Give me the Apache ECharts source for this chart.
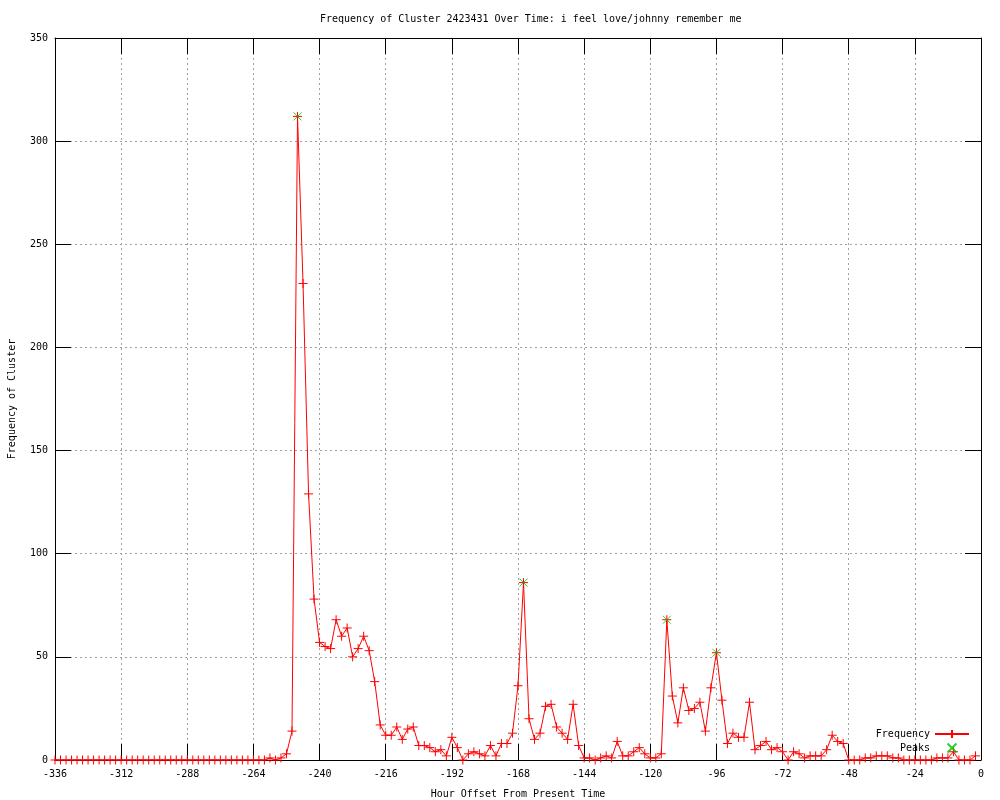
<!DOCTYPE html>
<html>
<head>
<meta charset="utf-8">
<script src="https://cdn.jsdelivr.net/npm/echarts@6/dist/echarts.min.js"></script>
<style>html,body{margin:0;padding:0;background:#fff}#c{width:1000px;height:800px}</style>
</head>
<body>
<div id="c"></div>
<script>
const TITLE = 'Frequency of Cluster 2423431 Over Time: i feel love/johnny remember me';
const X_NAME = 'Hour Offset From Present Time';
const Y_NAME = 'Frequency of Cluster';
// hours sampled every 2 hours, from -336 up to -2
const START_HOUR = -336;
const STEP_HOURS = 2;
const frequency = [
  0,0,0,0,0,0,0,0,0,0, 0,0,0,0,0,0,0,0,0,0, 0,0,0,0,0,0,0,0,0,0, 0,0,0,0,0,0,0,0,0,
  1,0,1,3,14,312,231,129,78,57,
  55,54,68,60,64,50,54,60,53,38,
  17,12,12,16,10,15,16,7,7,6,
  4,5,2,11,6,0,3,4,3,2,
  7,2,8,8,13,36,86,20,10,13,
  26,27,16,13,10,27,7,1,1,0,
  1,2,1,9,2,2,4,6,3,1,
  1,3,68,31,18,35,24,25,28,14,
  35,52,29,8,13,11,11,28,5,7,
  9,5,6,4,0,4,3,1,2,2,
  2,5,12,9,8,0,0,0,1,1,
  2,2,2,1,1,0,0,0,0,0,
  0,1,1,1,4,0,0,0,2
];
const peakHours = [-248, -166, -114, -96];
const peakValues = [312, 86, 68, 52];
const X_TICKS = { min: -336, max: 0, interval: 24 };
const Y_TICKS = { min: 0, max: 350, interval: 50 };

const freqData = frequency.map((v, i) => [START_HOUR + i * STEP_HOURS, v]);
const peakData = peakHours.map((h, i) => [h, peakValues[i]]);

const FONT = 'DejaVu Sans Mono';
const PLUS = 'path://M0,5L10,5M5,0L5,10';
const CROSS = 'path://M0,0L10,10M10,0L0,10';
const CROSS_LEGEND = 'path://M0,0L0,0M12.5,0.5L21.5,9.5M21.5,0.5L12.5,9.5M34,10L34,10';

const chart = echarts.init(document.getElementById('c'), null, { renderer: 'canvas' });
const grid = { left: 55, right: 19, top: 38, bottom: 40, containLabel: false, outerBoundsMode: 'none' };
const tick = { show: true, inside: true, length: 16, lineStyle: { color: '#000', width: 1 } };
const split = { show: true, lineStyle: { color: '#a0a0a0', type: [2, 3], width: 1 } };
chart.setOption({
  animation: false,
  backgroundColor: '#fff',
  title: {
    text: TITLE, left: 315, top: 9,
    textStyle: { fontFamily: FONT, fontSize: 10, fontWeight: 'normal', color: '#000' }
  },
  grid: grid,
  legend: {
    orient: 'vertical', right: 25, top: 724, align: 'right',
    itemWidth: 34, itemHeight: 10, itemGap: 3,
    textStyle: { fontFamily: FONT, fontSize: 10, color: '#000' },
    data: [
      { name: 'Frequency' },
      { name: 'Peaks', icon: CROSS_LEGEND }
    ]
  },
  xAxis: [{
    type: 'value', position: 'bottom', ...X_TICKS,
    name: X_NAME, nameLocation: 'middle', nameGap: 29,
    nameTextStyle: { fontFamily: FONT, fontSize: 10, color: '#000' },
    axisLine: { show: true, onZero: false, lineStyle: { color: '#000', width: 1 } },
    axisTick: tick,
    axisLabel: { fontFamily: FONT, fontSize: 10, color: '#000', margin: 9 },
    splitLine: split
  }, {
    type: 'value', position: 'top', ...X_TICKS,
    axisLine: { show: true, onZero: false, lineStyle: { color: '#000', width: 1 } },
    axisTick: tick, axisLabel: { show: false }, splitLine: { show: false }
  }],
  yAxis: [{
    type: 'value', position: 'left', ...Y_TICKS,
    name: Y_NAME, nameLocation: 'middle', nameGap: 38, nameRotate: 90,
    nameTextStyle: { fontFamily: FONT, fontSize: 10, color: '#000' },
    axisLine: { show: true, onZero: false, lineStyle: { color: '#000', width: 1 } },
    axisTick: tick,
    axisLabel: { fontFamily: FONT, fontSize: 10, color: '#000', margin: 7 },
    splitLine: split
  }, {
    type: 'value', position: 'right', ...Y_TICKS,
    axisLine: { show: true, onZero: false, lineStyle: { color: '#000', width: 1 } },
    axisTick: tick, axisLabel: { show: false }, splitLine: { show: false }
  }],
  series: [{
    name: 'Frequency', type: 'line', data: freqData,
    symbol: PLUS, symbolSize: 9, showSymbol: true, showAllSymbol: true,
    lineStyle: { color: '#ff0000', width: 1 },
    itemStyle: { color: '#ff0000', borderColor: '#ff0000', borderWidth: 1 },
    emphasis: { disabled: true }, z: 2
  }, {
    name: 'Peaks', type: 'scatter', data: peakData,
    symbol: CROSS, symbolSize: 8,
    itemStyle: { color: '#00c000', borderColor: '#00c000', borderWidth: 1 },
    emphasis: { disabled: true }, z: 10
  }]
});
</script>
</body>
</html>
